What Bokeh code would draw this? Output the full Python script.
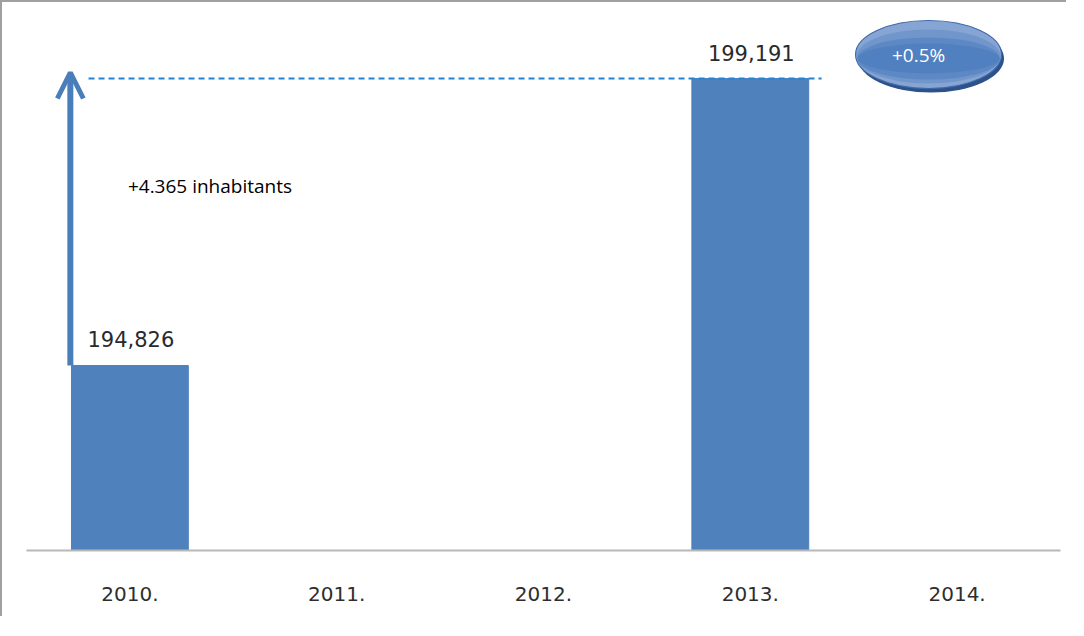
from bokeh.plotting import figure
from bokeh.models import ColumnDataSource, Range1d, Arrow, OpenHead
from bokeh.transform import dodge
from bokeh.core.properties import value
from bokeh.embed import file_html
from bokeh.resources import INLINE

# ---- data ----
years = ["2010.", "2011.", "2012.", "2013.", "2014."]
bar_years = ["2010.", "2013."]
population = [194826, 199191]
labels = ["194,826", "199,191"]
change_text = "+4.365 inhabitants"
pct_text = "+0.5%"

# ---- layout ----
Y0, Y1 = 192012, 200347
FRAME_H = 548
upp = (Y1 - Y0) / FRAME_H  # data units per pixel

p = figure(x_range=years, y_range=Range1d(Y0, Y1), width=1066, height=616,
           output_backend="svg", toolbar_location=None, y_axis_location=None,
           min_border_left=24, min_border_right=8, min_border_top=0, min_border_bottom=68,
           background_fill_color="white", border_fill_color="white",
           styles={"border-top": "2px solid #a0a0a0", "border-left": "2px solid #a0a0a0"})
p.outline_line_color = None
p.xgrid.grid_line_color = None
p.ygrid.grid_line_color = None

ax = p.xaxis[0]
ax.axis_line_color = "#b8b8b8"
ax.axis_line_width = 2
ax.major_tick_line_color = None
ax.minor_tick_line_color = None
ax.major_tick_out = 0
ax.major_label_standoff = 36
ax.major_label_text_font = "DejaVu Sans"
ax.major_label_text_font_size = "20px"
ax.major_label_text_color = "#2e2e2e"

src = ColumnDataSource(dict(x=bar_years, top=population, label=labels))
p.vbar(x="x", top="top", bottom=Y0, width=0.565, source=src,
       fill_color="#4f81bd", line_color="#4f81bd")

p.text(x="x", y="top", text="label", source=src, text_align="center",
       text_baseline="middle", y_offset=-26, x_offset=1, text_font=value("DejaVu Sans"),
       text_font_size="21px", text_color="#2a2a2a")

# dashed reference line at 2013 level
dsrc = ColumnDataSource(dict(x0=[bar_years[0]], x1=[bar_years[1]], y=[population[1]]))
p.segment(x0=dodge("x0", -0.2, range=p.x_range), y0="y",
          x1=dodge("x1", 0.345, range=p.x_range), y1="y", source=dsrc,
          line_color="#2183d8", line_width=1.8, line_dash="6 4")

# arrow
asrc = ColumnDataSource(dict(x=[bar_years[0]], y0=[population[0]], y1=[population[1] + 6 * upp]))
p.add_layout(Arrow(end=OpenHead(size=26, line_width=5, line_color="#4a7ebb"),
                   x_start=dodge("x", -0.288, range=p.x_range), y_start="y0",
                   x_end=dodge("x", -0.288, range=p.x_range), y_end="y1",
                   line_width=6, line_color="#4a7ebb", source=asrc))

# change text
tsrc = ColumnDataSource(dict(x=[bar_years[0]], y=[population[1]], t=[change_text]))
p.text(x="x", y="y", text="t", source=tsrc, x_offset=-2, y_offset=107,
       text_align="left", text_baseline="middle", text_font=value("Open Sans"),
       text_font_size="19px", text_color="#000000")

# ellipse badge (stacked ellipses approximate the gradient fill)
ey = population[1] + 24 * upp
W, H = 146, 68
badge_heights = [68, 54, 42, 30]
badge_colors = ["#86a4d4", "#7096cb", "#5d88c4", "#5080bf"]
esrc = ColumnDataSource(dict(x=["2014."], y=[ey], ys=[ey - 4 * upp], t=[pct_text]))
p.ellipse(x=dodge("x", -0.126, range=p.x_range), y="ys", width=W, height=H,
          width_units="screen", height_units="screen", source=esrc,
          fill_color="#2d5189", line_color=None)
for i, (h, c) in enumerate(zip(badge_heights, badge_colors)):
    w = W - (H - h) * 0.12
    bsrc = ColumnDataSource(dict(x=["2014."], y=[ey - min(i, 2) * 2 * upp]))
    p.ellipse(x=dodge("x", -0.138, range=p.x_range), y="y", width=w, height=h,
              width_units="screen", height_units="screen", source=bsrc,
              fill_color=c, line_color="#3e69a8" if i == 0 else None, line_width=1.2)
p.text(x=dodge("x", -0.186, range=p.x_range), y="y", text="t", source=esrc,
       text_align="center", text_baseline="middle", text_font=value("Open Sans"),
       text_font_size="19px", text_color="white")

open("out.html", "w").write(file_html(p, INLINE))
